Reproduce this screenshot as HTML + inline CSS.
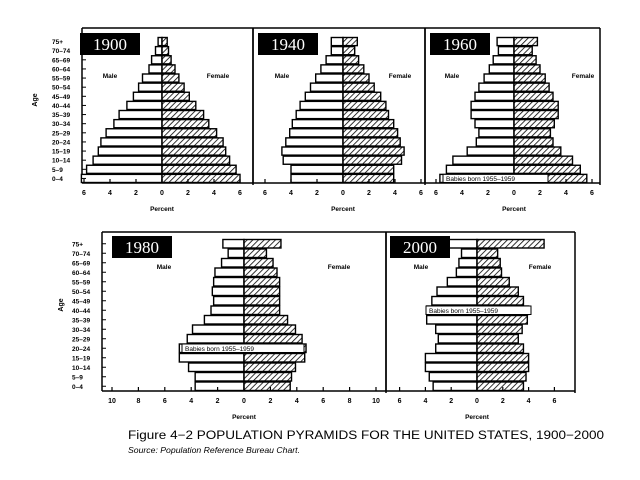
<!DOCTYPE html>
<html><head><meta charset="utf-8"><style>
html,body{margin:0;padding:0;background:#fff;width:640px;height:480px;overflow:hidden}
svg{display:block}
text{font-family:"Liberation Sans",sans-serif}
text.yr{font-family:"Liberation Serif",serif}
</style></head><body>
<svg id="s" width="640" height="480" xmlns="http://www.w3.org/2000/svg">
<defs>
<pattern id="h" patternUnits="userSpaceOnUse" width="4" height="4" patternTransform="rotate(45)">
<rect width="4" height="4" fill="#fff"/><line x1="0" y1="0" x2="0" y2="4" stroke="#000" stroke-width="1.6"/>
</pattern>
</defs>
</svg>
<script>
var s=document.getElementById('s');var NS='http://www.w3.org/2000/svg';
function el(t,a,txt){var e=document.createElementNS(NS,t);for(var k in a)e.setAttribute(k,a[k]);if(txt!=null)e.textContent=txt;s.appendChild(e);return e;}
var ages=['0–4','5–9','10–14','15–19','20–24','25–29','30–34','35–39','40–44','45–49','50–54','55–59','60–64','65–69','70–74','75+'];
function pyr(o){
 var cx=o.cx,sc=o.sc,y0=o.top,y1=o.bot,bh=(y1-y0)/16;
 if(o.bl!=null)el('line',{x1:o.bl,y1:o.ft,x2:o.bl,y2:y1,stroke:'#000','stroke-width':1.5});
 if(o.br!=null)el('line',{x1:o.br,y1:o.ft,x2:o.br,y2:y1+2,stroke:'#000','stroke-width':1.5});
 el('line',{x1:o.bl,y1:o.ft,x2:o.br,y2:o.ft,stroke:'#000','stroke-width':1.5});
 el('line',{x1:o.bl,y1:y1,x2:o.br,y2:y1,stroke:'#000','stroke-width':1.5});
 for(var i=0;i<16;i++){
  var y=y1-(i+1)*bh;
  var m=o.m[i]*sc,f=o.f[i]*sc;
  el('rect',{x:cx-m,y:y+0.5,width:m,height:bh-1,fill:'#fff',stroke:'#000','stroke-width':1.4});
  el('rect',{x:cx,y:y+0.5,width:f,height:bh-1,fill:'url(#h)',stroke:'#000','stroke-width':1.4});
  if(o.ticksL) el('line',{x1:o.bl,y1:y+bh/2,x2:o.bl+4,y2:y+bh/2,stroke:'#000','stroke-width':1});
 }
 el('line',{x1:cx,y1:y0,x2:cx,y2:y1,stroke:'#000','stroke-width':1.2});
 for(var v=-o.max;v<=o.max;v+=2){
  var x=cx+v*sc;
  el('line',{x1:x,y1:y1,x2:x,y2:y1-4,stroke:'#000','stroke-width':1.2});
  el('text',{x:x,y:y1+12,'font-size':7,'font-weight':'bold','text-anchor':'middle'},Math.abs(v));
 }
 el('text',{x:cx,y:y1+28,'font-size':6.5,'font-weight':'bold','text-anchor':'middle'},'Percent');
 el('text',{x:o.mx,y:o.ly,'font-size':6.5,'font-weight':'bold','text-anchor':'middle'},'Male');
 el('text',{x:o.fx,y:o.ly,'font-size':6.5,'font-weight':'bold','text-anchor':'middle'},'Female');
 el('rect',{x:o.yx,y:o.yy,width:60,height:22,fill:'#000'});
 el('text',{x:o.yx+30,y:o.yy+17,'font-size':17,fill:'#fff','text-anchor':'middle','class':'yr'},o.yr);
 if(o.bb!=null){
  var y=y1-(o.bb+1)*bh;
  el('rect',{x:o.bbx,y:y+0.5,width:o.bbw,height:bh-1,fill:'#fff',stroke:'#000','stroke-width':1});
  el('text',{x:o.bbx+3,y:y+bh-2,'font-size':6.5},'Babies born 1955–1959');
 }
 if(o.agex!=null){
  for(var i=0;i<16;i++){var y=y1-(i+0.5)*bh;el('text',{x:o.agex,y:y+2.5,'font-size':6.5,'font-weight':'bold'},ages[i]);}
  el('text',{x:0,y:0,'font-size':7,'font-weight':'bold',transform:'translate('+o.agelx+','+o.agely+') rotate(-90)','text-anchor':'middle'},'Age');
 }
}
pyr({cx:162,sc:13,top:37,bot:183,ft:28,bl:82,br:253,max:6,yr:'1900',yx:80,yy:33,mx:110,fx:218,ly:78,ticksL:true,agex:52,agelx:37,agely:100,
 m:[6.2,5.8,5.3,4.9,4.7,4.3,3.7,3.3,2.7,2.2,1.8,1.5,1.0,0.8,0.5,0.3],f:[6.0,5.7,5.2,4.9,4.7,4.2,3.6,3.2,2.6,2.1,1.7,1.3,1.0,0.7,0.5,0.4]});
pyr({cx:343,sc:13,top:37,bot:183,ft:28,bl:253,br:425,max:6,yr:'1940',yx:258,yy:33,mx:282,fx:400,ly:78,
 m:[4.0,4.0,4.6,4.7,4.4,4.1,3.9,3.6,3.3,2.9,2.5,2.1,1.7,1.3,0.9,0.9],f:[3.9,3.9,4.5,4.7,4.4,4.2,3.9,3.5,3.3,2.9,2.4,2.0,1.6,1.2,0.9,1.1]});
pyr({cx:514,sc:13,top:37,bot:183,ft:28,bl:425,br:600,max:6,yr:'1960',yx:430,yy:33,mx:452,fx:583,ly:78,bb:0,bbx:443,bbw:105,
 m:[5.7,5.2,4.7,3.6,2.9,2.7,3.0,3.3,3.3,3.0,2.7,2.3,1.9,1.6,1.2,1.3],f:[5.6,5.1,4.5,3.6,3.0,2.8,3.1,3.4,3.4,3.0,2.7,2.4,2.0,1.7,1.4,1.8]});
pyr({cx:244,sc:13.2,top:239,bot:391,ft:232,bl:102,br:386,max:10,yr:'1980',yx:112,yy:236,mx:164,fx:339,ly:269,ticksL:true,agex:72,agelx:63,agely:305,bb:4,bbx:182,bbw:122,
 m:[3.7,3.7,4.2,4.9,4.9,4.3,3.9,3.0,2.5,2.3,2.4,2.3,2.2,1.7,1.2,1.6],f:[3.5,3.6,3.9,4.6,4.7,4.4,3.9,3.3,2.7,2.7,2.7,2.7,2.5,2.2,1.7,2.8]});
pyr({cx:477,sc:12.9,top:239,bot:391,ft:232,bl:386,br:575,max:6,yr:'2000',yx:390,yy:236,mx:421,fx:540,ly:269,bb:8,bbx:426,bbw:105,
 m:[3.4,3.7,4.0,4.0,3.2,3.0,3.2,3.9,3.9,3.5,3.1,2.3,1.6,1.4,1.2,2.5],f:[3.6,3.8,4.0,4.0,3.6,3.2,3.5,3.9,4.0,3.6,3.2,2.5,1.9,1.8,1.6,5.2]});
el('text',{x:128,y:439,'font-size':11.5,textLength:476,lengthAdjust:'spacingAndGlyphs'},'Figure 4−2   POPULATION PYRAMIDS FOR THE UNITED STATES, 1900−2000');
el('text',{x:128,y:453,'font-size':8.5,'font-style':'italic',textLength:172,lengthAdjust:'spacingAndGlyphs'},'Source:  Population Reference Bureau Chart.');
</script>
</body></html>
